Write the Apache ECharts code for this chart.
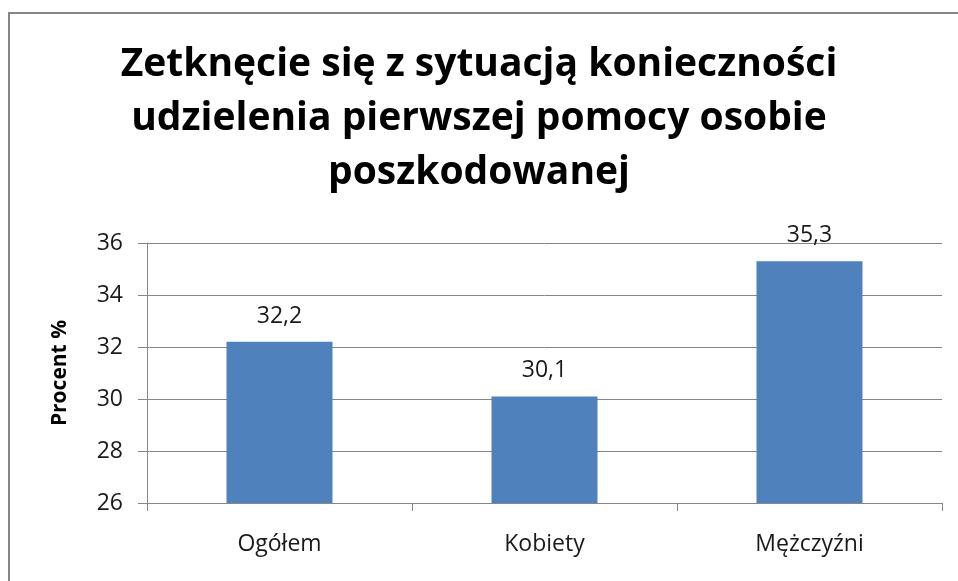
<!DOCTYPE html>
<html>
<head>
<meta charset="utf-8">
<script src="https://cdn.jsdelivr.net/npm/echarts@6/dist/echarts.min.js"></script>
<style>
  html, body { margin: 0; padding: 0; background: #fff; }
  #chart { width: 958px; height: 581px; }
</style>
</head>
<body>
<div id="chart"></div>
<script>
const categories = ['Ogółem', 'Kobiety', 'Mężczyźni']
const values = [32.2, 30.1, 35.3]
const titleText = 'Zetknęcie się z sytuacją konieczności\nudzielenia pierwszej pomocy osobie\nposzkodowanej'

const chart = echarts.init(document.getElementById('chart'))

const fontFamily = 'Open Sans'

chart.setOption({
  animation: false,
  graphic: [
    {
      type: 'rect',
      shape: { x: 9, y: 13, width: 1200, height: 1200 },
      style: { fill: 'none', stroke: '#868686', lineWidth: 2 },
      silent: true
    }
  ],
  title: {
    text: titleText,
    left: 'center',
    top: 33,
    textStyle: {
      fontFamily,
      fontSize: 39,
      fontWeight: 'bold',
      color: '#000',
      lineHeight: 54
    }
  },
  grid: { left: 147, right: 16, top: 243, bottom: 78 },
  xAxis: {
    type: 'category',
    data: categories,
    axisLine: { lineStyle: { color: '#868686', width: 1 } },
    axisTick: { show: true, length: 8, lineStyle: { color: '#868686' } },
    axisLabel: { fontFamily, fontSize: 23, color: '#1a1a1a', margin: 30 }
  },
  yAxis: {
    type: 'value',
    min: 26,
    max: 36,
    interval: 2,
    name: 'Procent %',
    nameLocation: 'middle',
    nameGap: 76,
    nameTextStyle: { fontFamily, fontSize: 21, fontWeight: 'bold', color: '#000' },
    axisLine: { show: true, lineStyle: { color: '#868686' } },
    axisTick: { show: true, length: 9, inside: false, lineStyle: { color: '#868686' } },
    splitLine: { lineStyle: { color: '#868686' } },
    axisLabel: { fontFamily, fontSize: 23, color: '#1a1a1a', margin: 24 }
  },
  series: [
    {
      type: 'bar',
      data: values,
      barWidth: '40%',
      itemStyle: { color: '#4F81BD' },
      label: {
        show: true,
        position: 'top',
        distance: 14,
        fontFamily,
        fontSize: 23,
        color: '#1a1a1a',
        formatter: p => String(p.value).replace('.', ',')
      }
    }
  ]
})
</script>
</body>
</html>
